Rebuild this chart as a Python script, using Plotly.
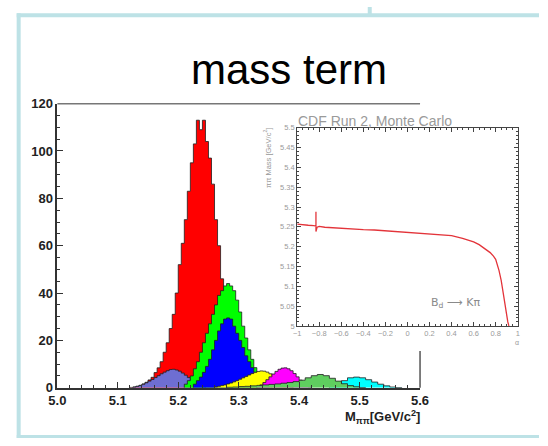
import plotly.graph_objects as go

W, H = 548, 446


def px(x):
    return x / W


def py(y):
    return 1 - y / H


# ---------------- main histogram data (bin start, bin width, contents) ----------------
red_start, red_width = 5.12, 0.005
red_vals = [0.15, 0.3, 0.6, 1.0, 1.6, 2.3, 3.3, 4.4, 6.4, 8.4, 11, 15, 19, 25, 31, 40,
            52, 61, 71, 83, 95, 103, 113, 109, 113, 104, 97, 86, 71, 60, 46, 38, 30,
            23, 17, 12, 8, 5, 3, 1.5, 0.6]

lav_start, lav_width = 5.125, 0.005
lav_vals = [0.3, 0.6, 1.0, 1.5, 2.1, 2.8, 3.5, 4.3, 5.1, 5.9, 6.6, 7.2, 7.7, 7.8, 7.5,
            7.0, 6.2, 5.3, 4.3, 3.3, 2.3, 1.4, 0.7, 0.3]

grn_start, grn_width = 5.21, 0.005
grn_vals = [1.5, 3, 5, 8, 11, 15, 19, 23, 27, 31, 35, 39, 41, 43, 44, 43, 41, 37, 32,
            26, 21, 16, 12, 8.5, 6, 4, 2.5, 1.3, 0.6]

blu_start, blu_width = 5.225, 0.005
blu_vals = [1.5, 3, 4.5, 6.5, 9, 12, 16, 20, 24, 27, 29, 29.5, 29, 26, 23, 20, 17,
            13.5, 11, 8.5, 6.5, 4.5, 3, 1.8, 0.8]

yel_start, yel_width = 5.26, 0.005
yel_vals = [0.3, 0.6, 0.9, 1.2, 1.6, 2.0, 2.5, 3.0, 3.6, 4.2, 4.8, 5.4, 6.0, 6.5, 6.9,
            7.1, 7.0, 6.6, 5.9, 5.0, 4.0, 3.0, 2.1, 1.3, 0.7, 0.3]

mag_start, mag_width = 5.33, 0.005
mag_vals = [0.5, 1.2, 2.2, 3.4, 4.6, 5.8, 6.9, 7.8, 8.3, 8.4, 8.0, 7.2, 6.0, 4.6, 3.2,
            2.0, 1.0, 0.4]

cyan_start, cyan_width = 5.45, 0.01
cyan_vals = [0.5, 1.5, 3.0, 4.2, 4.5, 4.2, 3.4, 2.4, 1.5, 0.8, 0.3, 0.1]

mgr_start, mgr_width = 5.28, 0.01
mgr_vals = [0.2, 0.3, 0.5, 0.6, 0.8, 1.0, 1.2, 1.4, 1.6, 1.9, 2.2, 2.6, 3.2, 4.2, 5.1,
            5.6, 5.1, 4.0, 2.8, 1.7, 0.9, 0.4, 0.1]

# draw order: back to front
components = [
    ("red", red_start, red_width, red_vals, "#ff0000"),
    ("lavender", lav_start, lav_width, lav_vals, "#6e6ed2"),
    ("green", grn_start, grn_width, grn_vals, "#00ff00"),
    ("blue", blu_start, blu_width, blu_vals, "#0000ff"),
    ("yellow", yel_start, yel_width, yel_vals, "#ffff00"),
    ("magenta", mag_start, mag_width, mag_vals, "#ff00ff"),
    ("cyan", cyan_start, cyan_width, cyan_vals, "#00ffff"),
    ("medgreen", mgr_start, mgr_width, mgr_vals, "#5fce5f"),
]

# ---------------- inset data ----------------
alpha_vals = [-1.0, -0.95, -0.9, -0.85, -0.83, -0.83, -0.83, -0.82, -0.8, -0.75, -0.7,
              -0.6, -0.5, -0.4, -0.3, -0.2, -0.1, 0.0, 0.1, 0.2, 0.3, 0.4, 0.5, 0.55,
              0.6, 0.65, 0.7, 0.72, 0.75, 0.78, 0.8, 0.83, 0.85, 0.87, 0.89, 0.91, 0.92]
mass_vals = [5.257, 5.255, 5.254, 5.253, 5.252, 5.288, 5.238, 5.249, 5.251, 5.249,
             5.248, 5.246, 5.245, 5.243, 5.242, 5.240, 5.238, 5.236, 5.235, 5.233,
             5.231, 5.228, 5.221, 5.217, 5.212, 5.205, 5.196, 5.192, 5.185, 5.176,
             5.168, 5.14, 5.115, 5.08, 5.04, 5.01, 5.0]

main_xticks = [5.0, 5.1, 5.2, 5.3, 5.4, 5.5, 5.6]
main_yticks = [0, 20, 40, 60, 80, 100, 120]

fig = go.Figure()


def step_xy(start, width, vals):
    edges = [round(start + width * i, 5) for i in range(len(vals) + 1)]
    xs = [edges[0]] + edges
    ys = [0] + list(vals) + [0]
    return xs, ys


for name, start, width, vals, col in components:
    xs, ys = step_xy(start, width, vals)
    fig.add_trace(go.Scatter(
        x=xs, y=ys, mode="lines", name=name,
        line=dict(shape="hv", color="#202020", width=0.8),
        fill="tozeroy", fillcolor=col,
        xaxis="x", yaxis="y", hoverinfo="skip", showlegend=False))

fig.add_trace(go.Scatter(
    x=alpha_vals, y=mass_vals, mode="lines",
    line=dict(color="#e3343a", width=1.3),
    xaxis="x2", yaxis="y2", hoverinfo="skip", showlegend=False))

FONT = "Liberation Sans, Arial, sans-serif"
tick_main = dict(family=FONT, size=13, color="#222222", weight="bold")
tick_inset = dict(family=FONT, size=7.5, color="#9a9a9a")

fig.update_layout(
    width=W, height=H,
    margin=dict(l=0, r=0, t=0, b=0),
    paper_bgcolor="white", plot_bgcolor="rgba(0,0,0,0)",
    font=dict(family=FONT),
    xaxis=dict(domain=[px(50), px(425)], range=[5.0, 5.6], anchor="y",
               tickvals=main_xticks, tickformat=".1f",
               ticks="inside", ticklen=6, tickwidth=1, tickcolor="#333",
               minor=dict(dtick=0.02, tick0=5.0, ticks="inside", ticklen=3, tickcolor="#333"),
               showline=True, linecolor="#333", linewidth=1.5, mirror=False,
               showgrid=False, zeroline=False, tickfont=tick_main),
    yaxis=dict(domain=[py(394), py(100)], range=[0, 120], anchor="x",
               tickvals=main_yticks,
               ticks="inside", ticklen=6, tickwidth=1, tickcolor="#333",
               minor=dict(dtick=5, tick0=0, ticks="inside", ticklen=3, tickcolor="#333"),
               showline=True, linecolor="#333", linewidth=1.5, mirror=False,
               showgrid=False, zeroline=False, tickfont=tick_main),
    xaxis2=dict(domain=[px(298), px(526)], range=[-1, 1], anchor="y2",
                dtick=0.2, tick0=-1, ticks="inside", ticklen=4, tickcolor="#444",
                minor=dict(dtick=0.05, ticks="inside", ticklen=2, tickcolor="#444"),
                showline=True, linecolor="#444", linewidth=1.2, mirror="allticks",
                showgrid=False, zeroline=False, tickfont=tick_inset),
    yaxis2=dict(domain=[py(330), py(125)], range=[5.0, 5.5], anchor="x2",
                dtick=0.05, tick0=5.0, ticks="inside", ticklen=4, tickcolor="#444",
                minor=dict(dtick=0.01, ticks="inside", ticklen=2, tickcolor="#444"),
                showline=True, linecolor="#444", linewidth=1.2, mirror="allticks",
                showgrid=False, zeroline=False, tickfont=tick_inset),
)

border = "#bde2e6"
shapes = [
    dict(type="line", xref="paper", yref="paper", x0=px(10), x1=px(10), y0=py(6.5), y1=py(446),
         line=dict(color=border, width=4)),
    dict(type="line", xref="paper", yref="paper", x0=px(8), x1=px(548), y0=py(8.5), y1=py(8.5),
         line=dict(color=border, width=4)),
    dict(type="line", xref="paper", yref="paper", x0=px(373), x1=px(373), y0=py(0), y1=py(8.5),
         line=dict(color=border, width=4)),
    dict(type="line", xref="paper", yref="paper", x0=px(8), x1=px(548), y0=py(444.5), y1=py(444.5),
         line=dict(color=border, width=3)),
    # main frame top & right (partly hidden by inset)
    dict(type="line", xref="paper", yref="paper", x0=px(50), x1=px(425), y0=py(100), y1=py(100),
         line=dict(color="#777", width=1.5)),
    dict(type="line", xref="paper", yref="paper", x0=px(425), x1=px(425), y0=py(356), y1=py(394),
         line=dict(color="#555", width=1.5)),
]
fig.update_layout(shapes=shapes)

annotations = [
    dict(text="mass term", x=px(289), y=py(65), xref="paper", yref="paper",
         showarrow=False, xanchor="center", yanchor="middle",
         font=dict(family=FONT, size=42, color="black")),
    dict(text="M<sub>ππ</sub>[GeV/c<sup>2</sup>]", x=px(427), y=py(424), xref="paper", yref="paper",
         showarrow=False, xanchor="right", yanchor="middle",
         font=dict(family=FONT, size=13, color="#222", weight="bold")),
    dict(text="CDF Run 2, Monte Carlo", x=px(297), y=py(118), xref="paper", yref="paper",
         showarrow=False, xanchor="left", yanchor="middle",
         font=dict(family=FONT, size=14, color="#9a9a9a")),
    dict(text="B<sub>d</sub> ⟶ Kπ", x=px(462), y=py(306), xref="paper", yref="paper",
         showarrow=False, xanchor="center", yanchor="middle",
         font=dict(family="DejaVu Sans, " + FONT, size=11, color="#8a8a8a")),
    dict(text="α", x=px(525), y=py(347), xref="paper", yref="paper",
         showarrow=False, xanchor="center", yanchor="middle",
         font=dict(family=FONT, size=7, color="#999")),
    dict(text="ππ Mass [GeV/c<sup>2</sup>]", x=px(267), y=py(156), xref="paper", yref="paper",
         showarrow=False, xanchor="center", yanchor="middle", textangle=-90,
         font=dict(family=FONT, size=7.5, color="#999")),
]
fig.update_layout(annotations=annotations)

fig.write_html("out.html")
